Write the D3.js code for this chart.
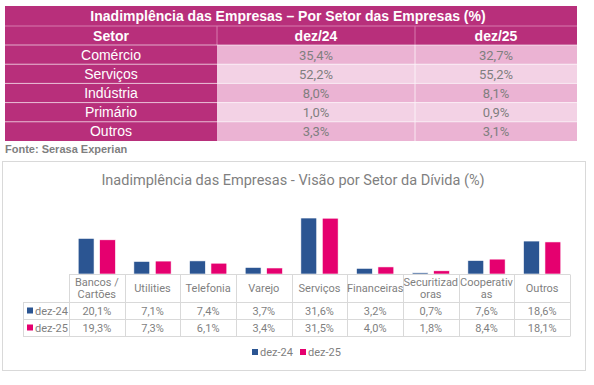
<!DOCTYPE html>
<html>
<head>
<meta charset="utf-8">
<script src="https://cdn.jsdelivr.net/npm/d3@7"></script>
<style>
  body { margin: 0; background: #fff; }
  svg { display: block; }
</style>
</head>
<body>
<svg id="chart" width="594" height="385"></svg>
<script>
// top table data
var setores = ["Comércio", "Serviços", "Indústria", "Primário", "Outros"];
var setorDez24 = ["35,4%", "52,2%", "8,0%", "1,0%", "3,3%"];
var setorDez25 = ["32,7%", "55,2%", "8,1%", "0,9%", "3,1%"];

// bar chart data
var categorias = [["Bancos /", "Cartões"], ["Utilities"], ["Telefonia"], ["Varejo"], ["Serviços"],
                  ["Financeiras"], ["Securitizad", "oras"], ["Cooperativ", "as"], ["Outros"]];
var series = ["dez-24", "dez-25"];
var dez24 = [20.1, 7.1, 7.4, 3.7, 31.6, 3.2, 0.7, 7.6, 18.6];
var dez25 = [19.3, 7.3, 6.1, 3.4, 31.5, 4.0, 1.8, 8.4, 18.1];
var cores = ["#2b5592", "#e5006f"];

var svg = d3.select("#chart");

// ---------- top table ----------
var magenta = "#b82f7b";
var tx0 = 5, tx1 = 217, tx2 = 415, tx3 = 577;
var tbl = svg.append("g");

tbl.append("rect").attr("x", tx0).attr("y", 6).attr("width", tx3 - tx0).attr("height", 39).attr("fill", magenta);
tbl.append("text").attr("x", (tx0 + tx3) / 2 - 3).attr("y", 21)
  .attr("text-anchor", "middle").attr("fill", "#fff")
  .style("font", "bold 14px 'Liberation Sans', Arial, sans-serif")
  .text("Inadimplência das Empresas – Por Setor das Empresas (%)");
tbl.append("line").attr("x1", tx0).attr("x2", tx3).attr("y1", 26).attr("y2", 26).attr("stroke", "#d77aae").attr("stroke-width", 1);

var headers = [["Setor", tx0, tx1], ["dez/24", tx1, tx2], ["dez/25", tx2, tx3]];
tbl.selectAll(".hd").data(headers).enter().append("text")
  .attr("x", function (d) { return (d[1] + d[2]) / 2; })
  .attr("y", 41)
  .attr("text-anchor", "middle").attr("fill", "#fff")
  .style("font", "bold 14px 'Liberation Sans', Arial, sans-serif")
  .text(function (d) { return d[0]; });
tbl.append("line").attr("x1", tx2).attr("x2", tx2).attr("y1", 26).attr("y2", 45).attr("stroke", "#d77aae");
tbl.append("line").attr("x1", tx1).attr("x2", tx1).attr("y1", 26).attr("y2", 45).attr("stroke", "#d77aae");

var rowY = d3.scaleBand().domain(d3.range(setores.length)).range([45, 141]);

var rows = tbl.selectAll(".row").data(setores).enter().append("g")
  .attr("transform", function (d, i) { return "translate(0," + rowY(i) + ")"; });

rows.append("rect").attr("x", tx0).attr("width", tx1 - tx0).attr("height", rowY.bandwidth()).attr("fill", magenta);
rows.append("rect").attr("x", tx1).attr("width", tx3 - tx1).attr("height", rowY.bandwidth())
  .attr("fill", function (d, i) { return i % 2 ? "#f3d2e5" : "#ebb3d3"; });
rows.append("line").attr("x1", tx0).attr("x2", tx3).attr("y1", 0).attr("y2", 0).attr("stroke", "#fff").attr("stroke-opacity", 0.6);
rows.append("line").attr("x1", tx2).attr("x2", tx2).attr("y1", 0).attr("y2", rowY.bandwidth()).attr("stroke", "#fff").attr("stroke-opacity", 0.7);

rows.append("text").attr("x", (tx0 + tx1) / 2).attr("y", 14.5)
  .attr("text-anchor", "middle").attr("fill", "#fff")
  .style("font", "14px 'Liberation Sans', Arial, sans-serif")
  .text(function (d) { return d; });
rows.append("text").attr("x", (tx1 + tx2) / 2).attr("y", 14.5)
  .attr("text-anchor", "middle").attr("fill", "#7f7f7f")
  .style("font", "13px Roboto, sans-serif")
  .text(function (d, i) { return setorDez24[i]; });
rows.append("text").attr("x", (tx2 + tx3) / 2).attr("y", 14.5)
  .attr("text-anchor", "middle").attr("fill", "#7f7f7f")
  .style("font", "13px Roboto, sans-serif")
  .text(function (d, i) { return setorDez25[i]; });

svg.append("text").attr("x", 5).attr("y", 153)
  .attr("fill", "#7f7f7f")
  .style("font", "bold 11px 'Liberation Sans', Arial, sans-serif")
  .text("Fonte: Serasa Experian");

// ---------- bar chart ----------
svg.append("rect").attr("x", 2.5).attr("y", 161.5).attr("width", 583).attr("height", 209)
  .attr("fill", "#fff").attr("stroke", "#d9d9d9");

svg.append("text").attr("x", 293).attr("y", 185)
  .attr("text-anchor", "middle").attr("fill", "#7f7f7f")
  .style("font", "14.5px Roboto, sans-serif")
  .text("Inadimplência das Empresas - Visão por Setor da Dívida (%)");

var x = d3.scaleBand().domain(d3.range(categorias.length)).range([69, 570]);
var xs = d3.scaleBand().domain(series).range([0, x.bandwidth()]).paddingInner(0.26).paddingOuter(0.43);
var y = d3.scaleLinear().domain([0, 35]).range([274, 212]);

var valores = [dez24, dez25];
var bars = svg.append("g");
series.forEach(function (s, si) {
  bars.selectAll(".b" + si).data(valores[si]).enter().append("rect")
    .attr("x", function (d, i) { return x(i) + xs(s); })
    .attr("y", function (d) { return y(d); })
    .attr("width", xs.bandwidth())
    .attr("height", function (d) { return y(0) - y(d); })
    .attr("fill", cores[si])
    .attr("stroke", "#fff").attr("stroke-width", 0.6);
});

// data table under the bars
var grid = svg.append("g").attr("stroke", "#d9d9d9").attr("stroke-width", 1);
var tb0 = 274.5, tb1 = 302.5, tb2 = 319.5, tb3 = 336.5;
grid.append("line").attr("x1", 69).attr("x2", 570).attr("y1", tb0).attr("y2", tb0);
[tb1, tb2, tb3].forEach(function (yy) {
  grid.append("line").attr("x1", 23).attr("x2", 570).attr("y1", yy).attr("y2", yy);
});
grid.append("line").attr("x1", 23.5).attr("x2", 23.5).attr("y1", tb1).attr("y2", tb3);
d3.range(categorias.length + 1).forEach(function (i) {
  var xx = Math.round(i < categorias.length ? x(i) : x.range()[1]) + 0.5;
  grid.append("line").attr("x1", xx).attr("x2", xx).attr("y1", tb0).attr("y2", tb3);
});

var cat = svg.append("g").selectAll("text").data(categorias).enter().append("text")
  .attr("text-anchor", "middle").attr("fill", "#7f7f7f")
  .style("font", "11px Roboto, sans-serif");
cat.each(function (d, i) {
  var t = d3.select(this);
  var cx = x(i) + x.bandwidth() / 2;
  var y0 = d.length > 1 ? 286 : 292;
  d.forEach(function (line, k) {
    t.append("tspan").attr("x", cx).attr("y", y0 + k * 12).text(line);
  });
});

var fmt = function (v) { return v.toFixed(1).replace(".", ",") + "%"; };
var rowsY = [tb1, tb2];
series.forEach(function (s, si) {
  var ty = rowsY[si] + 12;
  svg.append("rect").attr("x", 27).attr("y", ty - 7).attr("width", 6).attr("height", 6).attr("fill", cores[si]);
  svg.append("text").attr("x", 35).attr("y", ty).attr("fill", "#7f7f7f")
    .style("font", "11px Roboto, sans-serif").text(s);
  svg.append("g").selectAll("text").data(valores[si]).enter().append("text")
    .attr("x", function (d, i) { return x(i) + x.bandwidth() / 2; })
    .attr("y", ty)
    .attr("text-anchor", "middle").attr("fill", "#7f7f7f")
    .style("font", "11px Roboto, sans-serif")
    .text(fmt);
});

// legend
var leg = svg.append("g").attr("transform", "translate(252,356)");
series.forEach(function (s, si) {
  var lx = si * 48;
  leg.append("rect").attr("x", lx).attr("y", -7).attr("width", 6).attr("height", 6).attr("fill", cores[si]);
  leg.append("text").attr("x", lx + 8).attr("y", 0).attr("fill", "#7f7f7f")
    .style("font", "11px Roboto, sans-serif").text(s);
});
</script>
</body>
</html>
